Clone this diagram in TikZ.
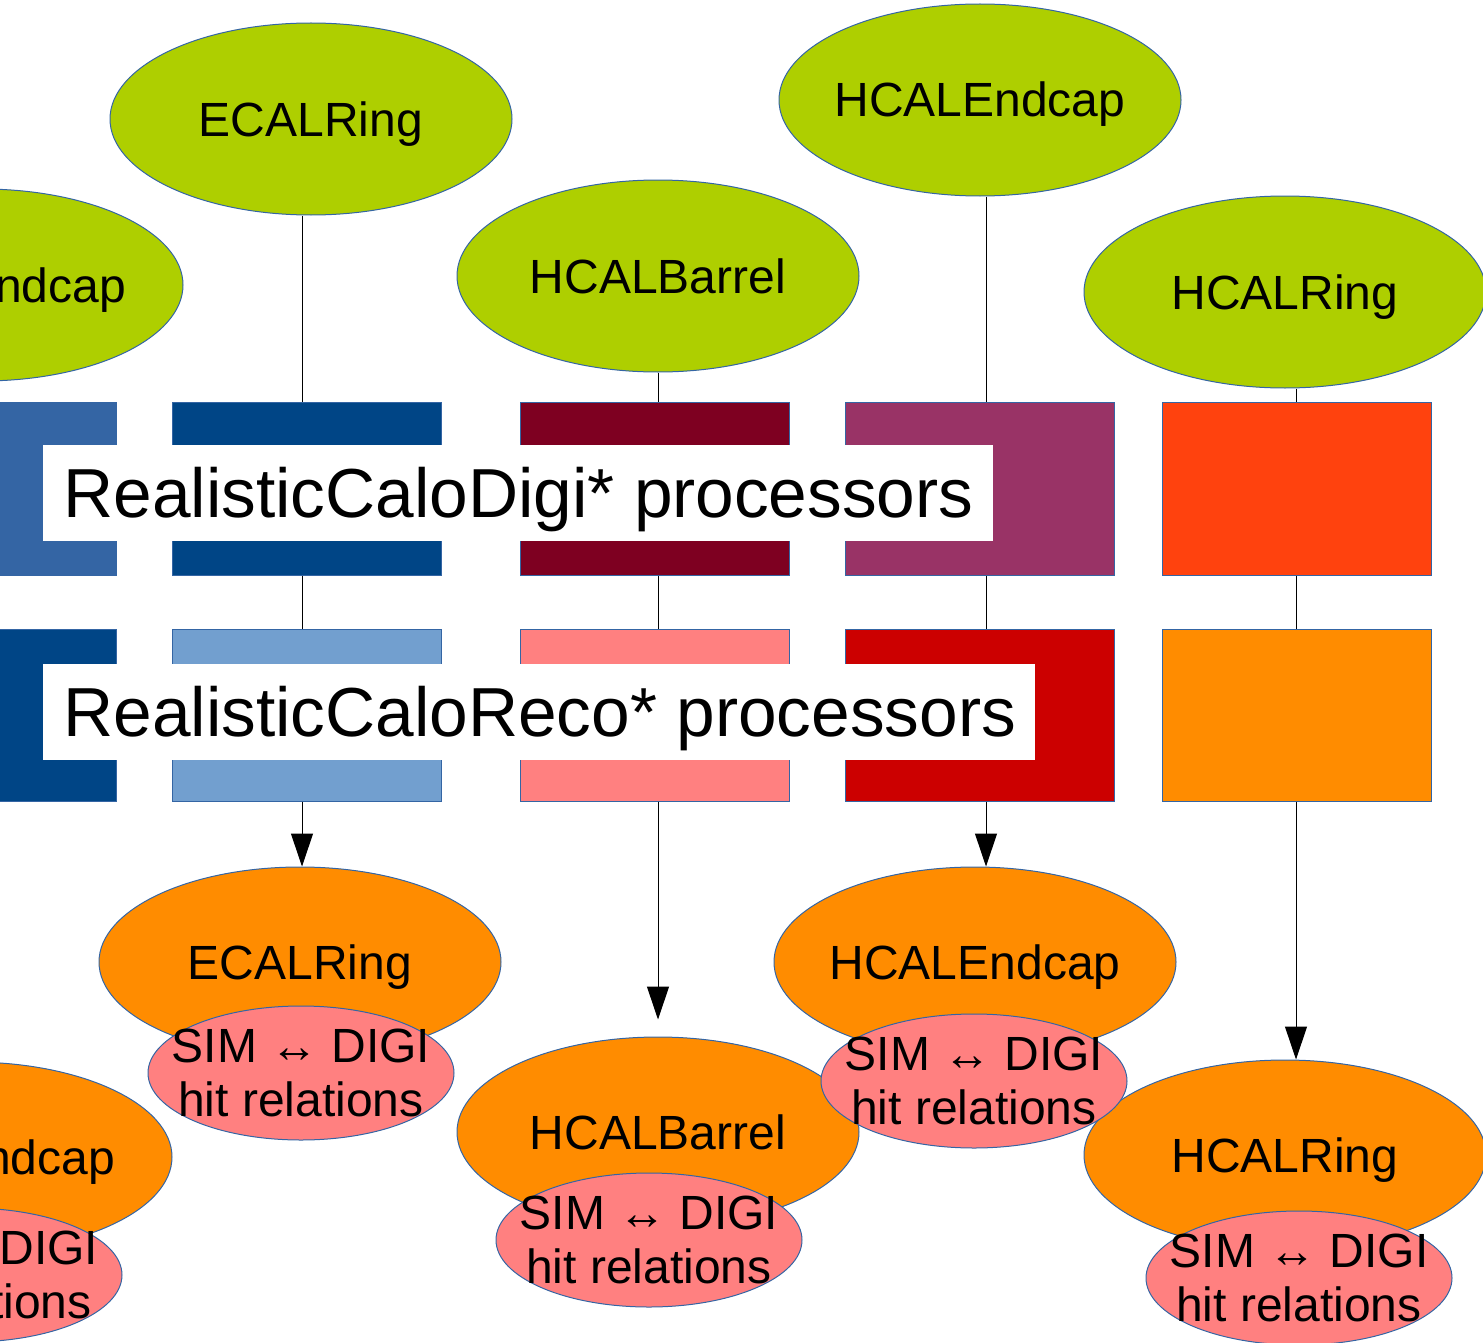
\documentclass[tikz,border=0pt]{standalone}
\usepackage{fontspec}
\setmainfont{Liberation Sans}
\usetikzlibrary{shapes.geometric,arrows.meta}
\definecolor{edgeblue}{HTML}{3465A4}
\definecolor{limeF}{HTML}{AECF00}
\definecolor{orangeF}{HTML}{FF8C00}
\definecolor{pinkF}{HTML}{FF8080}
\definecolor{blueA}{HTML}{3465A4}
\definecolor{blueB}{HTML}{004586}
\definecolor{blueC}{HTML}{729FCF}
\definecolor{maroonF}{HTML}{7E0021}
\definecolor{purpleF}{HTML}{993366}
\definecolor{redorF}{HTML}{FF420E}
\definecolor{redF}{HTML}{CC0000}
\begin{document}
\begin{tikzpicture}[x={(0.5pt,0pt)},y={(0pt,-0.5pt)},
  ell/.style={ellipse, draw=edgeblue, line width=0.5pt, inner sep=0pt},
  gell/.style={ell, fill=limeF, minimum width=201pt, minimum height=96pt},
  oell/.style={ell, fill=orangeF, minimum width=201pt, minimum height=95pt},
  pell/.style={ell, fill=pinkF, minimum width=153pt, minimum height=67pt},
  elbl/.style={font=\fontsize{24}{27}\selectfont, inner sep=0pt, anchor=base},
  plbl/.style={font=\fontsize{24}{27}\selectfont, align=center, inner sep=0pt},
  pbox/.style={rectangle, draw=edgeblue, line width=0.5pt, minimum width=134.5pt, inner sep=0pt},
  dbox/.style={pbox, minimum height=86.5pt},
  rbox/.style={pbox, minimum height=86pt},
  wbox/.style={rectangle, fill=white, inner sep=0pt, minimum height=48pt},
  bigtxt/.style={font=\fontsize{34.7}{40}\selectfont, inner sep=0pt, anchor=base west},
  conn/.style={draw=black, line width=0.5pt},
  arr/.style={conn, -{Triangle[length=16.5pt,width=11pt]}}]
\useasboundingbox (0,0) rectangle (1483,1343);
\clip (0,0) rectangle (1483,1343);
% column coordinates
\coordinate (cE) at (302,0);
\coordinate (cB) at (658,0);
\coordinate (cN) at (986,0);
\coordinate (cR) at (1296,0);
% top ellipses
\node[gell] (tEE) at (-18,285) {};
\node[elbl] (tEEt) at ([yshift=-8.5pt]tEE.center) {ECALEndcap};
\node[gell] (tE) at (311,119) {};
\node[elbl] (tEt) at ([yshift=-8.5pt]tE.center) {ECALRing};
\node[gell] (tB) at (658,276) {};
\node[elbl] (tBt) at ([yshift=-8.5pt]tB.center) {HCALBarrel};
\node[gell] (tN) at (980,100) {};
\node[elbl] (tNt) at ([yshift=-8.5pt]tN.center) {HCALEndcap};
\node[gell] (tR) at (1285,292) {};
\node[elbl] (tRt) at ([yshift=-8.5pt]tR.center) {HCALRing};
% digi rectangles
\node[dbox, fill=blueA] (dEE) at (-18.5,488.5) {};
\node[dbox, fill=blueB] (dE) at (306.5,488.5) {};
\node[dbox, fill=maroonF] (dB) at (654.5,488.5) {};
\node[dbox, fill=purpleF] (dN) at (979.5,488.5) {};
\node[dbox, fill=redorF] (dR) at (1296.5,488.5) {};
% reco rectangles
\node[rbox, fill=blueB] (rEE) at (-18.5,715) {};
\node[rbox, fill=blueC] (rE) at (306.5,715) {};
\node[rbox, fill=pinkF] (rB) at (654.5,715) {};
\node[rbox, fill=redF] (rN) at (979.5,715) {};
\node[rbox, fill=orangeF] (rR) at (1296.5,715) {};
% connectors top -> digi -> reco
\draw[conn] (cE |- tE.south) -- (cE |- dE.north);
\draw[conn] (cB |- tB.south) -- (cB |- dB.north);
\draw[conn] (cN |- tN.south) -- (cN |- dN.north);
\draw[conn] (cR |- tR.south) -- (cR |- dR.north);
\draw[conn] (cE |- dE.south) -- (cE |- rE.north);
\draw[conn] (cB |- dB.south) -- (cB |- rB.north);
\draw[conn] (cN |- dN.south) -- (cN |- rN.north);
\draw[conn] (cR |- dR.south) -- (cR |- rR.north);
% label boxes
\node[wbox, minimum width=475pt] (wD) at (518,493) {};
\node[bigtxt] (wDt) at (63,517) {RealisticCaloDigi* processors};
\node[wbox, minimum width=496pt] (wR) at (539,712) {};
\node[bigtxt] (wRt) at (63,736) {RealisticCaloReco* processors};
% bottom ellipses
\node[oell] (bEE) at (-29,1157) {};
\node[elbl] (bEEt) at ([yshift=-8.5pt]bEE.center) {ECALEndcap};
\node[pell] (pEE) at (-31,1275) {};
\node[plbl] (pEEt) at (pEE.center) {SIM ↔ DIGI\\hit relations};
\node[oell] (bE) at (300,962) {};
\node[elbl] (bEt) at ([yshift=-8.5pt]bE.center) {ECALRing};
\node[pell] (pE) at (301,1073) {};
\node[plbl] (pEt) at (pE.center) {SIM ↔ DIGI\\hit relations};
\node[oell] (bB) at (658,1132) {};
\node[elbl] (bBt) at ([yshift=-8.5pt]bB.center) {HCALBarrel};
\node[pell] (pB) at (649,1240) {};
\node[plbl] (pBt) at (pB.center) {SIM ↔ DIGI\\hit relations};
\node[oell] (bR) at (1285,1155) {};
\node[elbl] (bRt) at ([yshift=-8.5pt]bR.center) {HCALRing};
\node[oell] (bN) at (975,962) {};
\node[elbl] (bNt) at ([yshift=-8.5pt]bN.center) {HCALEndcap};
\node[pell] (pN) at (974,1081) {};
\node[plbl] (pNt) at (pN.center) {SIM ↔ DIGI\\hit relations};
\node[pell] (pR) at (1299,1278) {};
\node[plbl] (pRt) at (pR.center) {SIM ↔ DIGI\\hit relations};
% arrows reco -> outputs
\draw[arr] (cE |- rE.south) -- (cE |- bE.north);
\draw[arr] (cB |- rB.south) -- ([yshift=8.5pt]cB |- bB.north);
\draw[arr] (cN |- rN.south) -- (cN |- bN.north);
\draw[arr] (cR |- rR.south) -- (cR |- bR.north);
\end{tikzpicture}
\end{document}
